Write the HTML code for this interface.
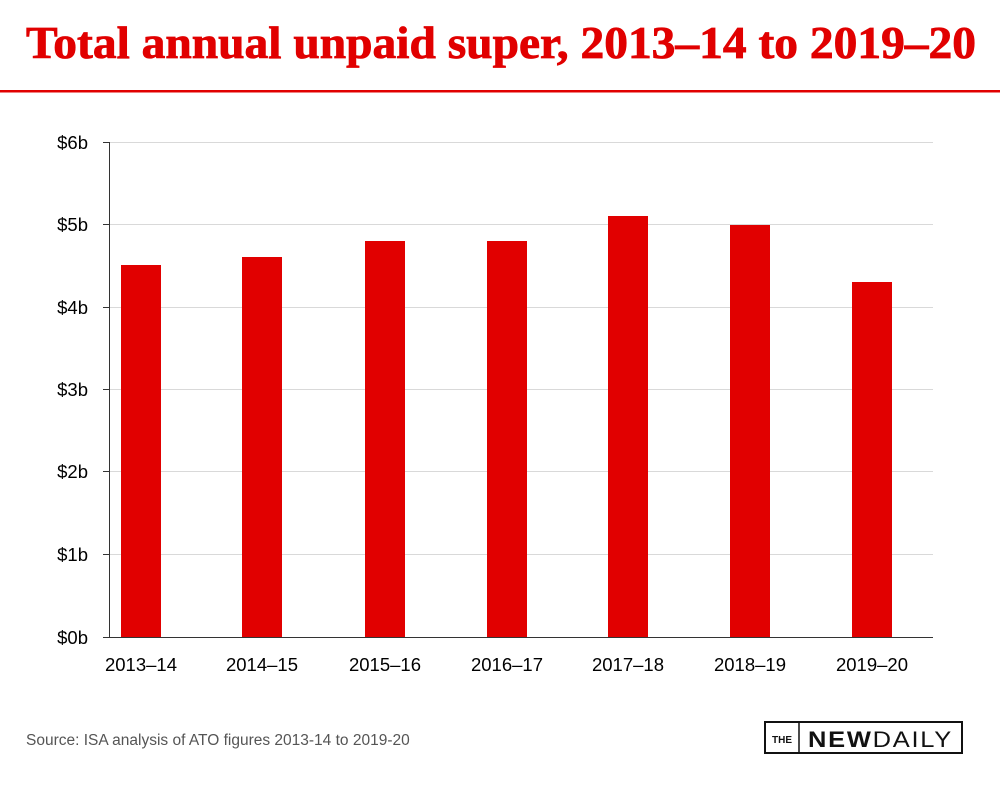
<!DOCTYPE html>
<html><head><meta charset="utf-8"><style>html,body{margin:0;padding:0;background:#fff}</style></head>
<body>
<svg width="1000" height="782" viewBox="0 0 1000 782" xmlns="http://www.w3.org/2000/svg">
<rect width="1000" height="782" fill="#fff"/>
<text x="26" y="58" font-family="Liberation Serif, serif" font-weight="bold" font-size="46" fill="#e10000" stroke="#e10000" stroke-width="0.8" textLength="950" lengthAdjust="spacingAndGlyphs">Total annual unpaid super, 2013–14 to 2019–20</text>
<rect x="0" y="90" width="1000" height="2.5" fill="#e10000"/>
<g stroke="#d9d9d9" stroke-width="1">
<line x1="109" y1="142.5" x2="933" y2="142.5"/>
<line x1="109" y1="224.5" x2="933" y2="224.5"/>
<line x1="109" y1="307.5" x2="933" y2="307.5"/>
<line x1="109" y1="389.5" x2="933" y2="389.5"/>
<line x1="109" y1="471.5" x2="933" y2="471.5"/>
<line x1="109" y1="554.5" x2="933" y2="554.5"/>
</g>
<g fill="#e10000">
<rect x="121" y="265" width="40" height="372"/>
<rect x="242" y="257" width="40" height="380"/>
<rect x="365" y="241" width="40" height="396"/>
<rect x="487" y="241" width="40" height="396"/>
<rect x="608" y="216" width="40" height="421"/>
<rect x="730" y="225" width="40" height="412"/>
<rect x="852" y="282" width="40" height="355"/>
</g>
<g stroke="#333" stroke-width="1">
<line x1="109.5" y1="142" x2="109.5" y2="637"/>
<line x1="103" y1="142.5" x2="109" y2="142.5"/>
<line x1="103" y1="224.5" x2="109" y2="224.5"/>
<line x1="103" y1="307.5" x2="109" y2="307.5"/>
<line x1="103" y1="389.5" x2="109" y2="389.5"/>
<line x1="103" y1="471.5" x2="109" y2="471.5"/>
<line x1="103" y1="554.5" x2="109" y2="554.5"/>
<line x1="103" y1="637.5" x2="933" y2="637.5"/>
</g>
<g font-family="Liberation Sans, sans-serif" font-size="18.5" fill="#000" text-anchor="end">
<text x="88" y="149">$6b</text>
<text x="88" y="231">$5b</text>
<text x="88" y="314">$4b</text>
<text x="88" y="396">$3b</text>
<text x="88" y="478">$2b</text>
<text x="88" y="561">$1b</text>
<text x="88" y="644">$0b</text>
</g>
<g font-family="Liberation Sans, sans-serif" font-size="18.5" fill="#000" text-anchor="middle">
<text x="141" y="671">2013–14</text>
<text x="262" y="671">2014–15</text>
<text x="385" y="671">2015–16</text>
<text x="507" y="671">2016–17</text>
<text x="628" y="671">2017–18</text>
<text x="750" y="671">2018–19</text>
<text x="872" y="671">2019–20</text>
</g>
<text x="26" y="745" font-family="Liberation Sans, sans-serif" font-size="15.5" fill="#555">Source: ISA analysis of ATO figures 2013-14 to 2019-20</text>
<rect x="765" y="722" width="197" height="31" fill="#fff" stroke="#111" stroke-width="2"/>
<line x1="799" y1="722" x2="799" y2="753" stroke="#111" stroke-width="1.5"/>
<text x="782" y="743" font-family="Liberation Sans, sans-serif" font-size="10" font-weight="bold" fill="#111" text-anchor="middle">THE</text>
<text x="808" y="747" font-family="Liberation Sans, sans-serif" font-size="22" font-weight="bold" fill="#111" letter-spacing="1.5" textLength="145" lengthAdjust="spacingAndGlyphs">NEW<tspan font-weight="normal">DAILY</tspan></text>
</svg>
</body></html>
